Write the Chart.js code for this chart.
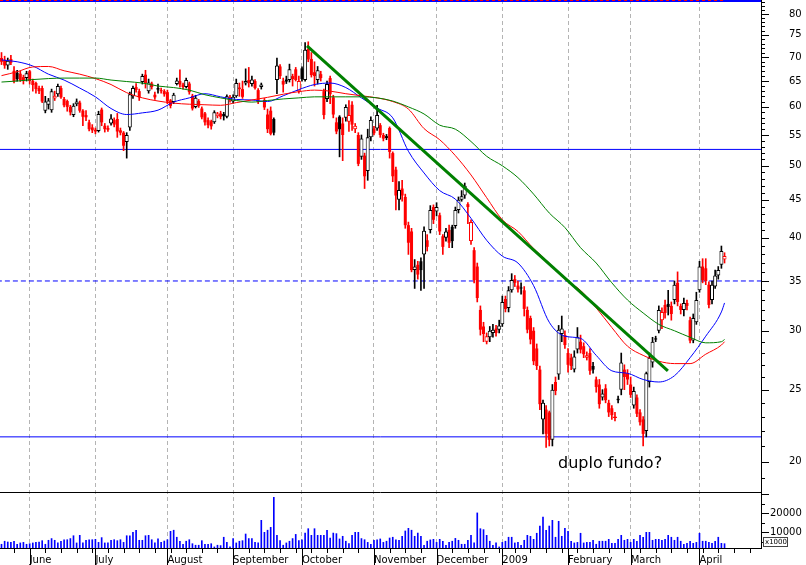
<!DOCTYPE html>
<html>
<head>
<meta charset="utf-8">
<title>Candles</title>
<script src="https://cdn.jsdelivr.net/npm/chart.js"></script>
<style>
  html, body { margin: 0; padding: 0; background: #fff; }
  #wrap { width: 806px; height: 565px; }
</style>
</head>
<body>
<div id="wrap"><canvas id="canvas" width="806" height="565"></canvas></div>
<script>
// month starts (trading-day index) and their labels
var monthIdx = [9, 30, 53, 74, 96, 119, 139, 160, 181, 201, 223];
var monthLbl = ["June", "July", "August", "September", "October", "November", "December", "2009", "February", "March", "April"];

// daily candles, one value per trading day
var openV = [
  69.8, 69.4, 68.2, 69.6, 67.1, 66.7, 66.5, 65.8, 65.6, 67.0,
  65.0, 64.6, 63.6, 63.6, 59.3, 60.4, 59.4, 61.6, 62.4, 63.6,
  61.5, 61.1, 60.0, 58.5, 60.5, 60.8, 59.3, 58.5, 57.2, 56.3,
  55.9, 55.7, 59.5, 56.6, 56.2, 57.0, 57.6, 57.8, 55.8, 55.4,
  53.8, 56.3, 62.0, 63.8, 63.0, 64.8, 66.3, 63.0, 64.5, 62.3,
  63.6, 63.2, 63.0, 62.8, 61.2, 60.9, 64.4, 65.0, 64.3, 63.8,
  64.5, 62.1, 60.0, 61.1, 59.7, 58.8, 57.6, 57.4, 57.2, 58.3,
  58.8, 58.7, 58.2, 61.2, 61.0, 62.0, 63.7, 63.4, 64.5, 65.2,
  64.4, 65.0, 63.2, 63.8, 61.3, 58.6, 59.3, 57.8, 65.2, 68.0,
  65.0, 65.3, 65.2, 66.0, 67.4, 63.0, 67.6, 65.2, 71.8, 69.6,
  66.8, 65.2, 66.4, 63.0, 61.5, 65.6, 61.8, 57.2, 58.2, 57.0,
  58.0, 57.3, 60.4, 56.0, 55.0, 51.4, 51.6, 49.2, 54.6, 56.1,
  56.1, 56.7, 55.0, 54.8, 56.2, 52.0, 49.4, 45.0, 46.6, 45.4,
  41.6, 40.8, 36.2, 36.8, 37.2, 38.0, 39.7, 41.0, 44.0, 43.4,
  42.9, 40.2, 40.0, 41.0, 41.4, 41.5, 43.6, 45.0, 45.6, 44.4,
  39.6, 38.5, 36.6, 32.0, 30.4, 29.0, 29.4, 29.8, 30.2, 30.1,
  30.6, 33.1, 32.2, 34.0, 35.2, 34.5, 34.3, 34.0, 32.0, 31.2,
  30.0, 28.4, 26.6, 22.8, 23.5, 23.3, 21.4, 25.6, 26.2, 29.7,
  29.6, 28.0, 27.6, 26.6, 28.3, 29.0, 28.6, 27.6, 28.0, 26.9,
  25.8, 25.4, 24.4, 25.1, 24.0, 23.6, 22.9, 24.3, 25.0, 26.6,
  26.3, 25.4, 23.8, 24.4, 23.3, 22.8, 22.0, 25.6, 27.2, 29.3,
  30.0, 31.0, 32.5, 32.6, 32.4, 33.0, 34.8, 32.4, 32.0, 32.7,
  31.0, 29.1, 30.8, 34.0, 36.6, 36.4, 34.6, 33.0, 34.4, 35.6,
  36.8, 37.4
];
var highV = [
  71.0, 70.2, 69.8, 70.4, 68.0, 67.2, 67.0, 66.2, 67.0, 67.2,
  65.4, 64.8, 64.0, 64.0, 62.0, 61.6, 63.4, 63.0, 64.4, 64.0,
  61.8, 61.3, 60.3, 60.6, 61.5, 61.1, 59.5, 59.3, 57.6, 56.8,
  56.2, 59.2, 59.8, 57.0, 56.6, 58.6, 58.0, 58.8, 56.2, 55.6,
  55.4, 62.8, 64.0, 64.5, 63.4, 66.4, 67.2, 65.4, 64.8, 62.8,
  64.4, 63.6, 63.3, 63.2, 61.4, 62.6, 65.6, 67.3, 64.6, 65.6,
  64.8, 62.4, 62.2, 61.4, 60.0, 59.0, 58.0, 57.6, 59.3, 59.0,
  59.2, 59.0, 62.3, 62.2, 62.3, 65.4, 64.6, 65.0, 67.5, 67.8,
  66.0, 65.3, 63.5, 64.6, 61.6, 59.6, 60.0, 58.0, 69.8, 68.4,
  65.6, 66.0, 68.5, 66.4, 67.8, 66.0, 67.9, 73.2, 73.4, 71.0,
  69.0, 68.0, 67.0, 63.4, 65.0, 66.0, 62.2, 58.0, 58.4, 58.0,
  60.4, 61.2, 61.0, 57.0, 55.4, 55.0, 52.0, 56.0, 58.2, 56.5,
  60.3, 57.0, 55.3, 55.1, 56.4, 52.2, 49.8, 47.6, 47.8, 45.8,
  42.0, 41.2, 37.4, 37.2, 37.6, 41.4, 40.4, 44.2, 44.3, 44.6,
  43.2, 40.4, 41.2, 41.6, 41.6, 44.0, 45.4, 46.3, 47.4, 44.6,
  42.3, 38.8, 37.0, 32.4, 30.8, 29.8, 30.4, 30.6, 30.5, 31.0,
  33.4, 33.4, 34.4, 35.8, 35.6, 35.0, 34.8, 34.4, 32.3, 31.4,
  30.3, 28.8, 26.9, 24.2, 23.8, 23.4, 25.4, 26.0, 30.5, 31.4,
  30.0, 28.4, 27.9, 28.2, 30.3, 29.6, 28.9, 28.1, 28.4, 27.2,
  26.0, 25.8, 25.0, 25.4, 24.2, 23.8, 23.3, 24.5, 28.0, 27.0,
  26.6, 26.0, 25.2, 24.6, 23.5, 23.0, 26.4, 28.0, 29.4, 29.5,
  32.4, 32.2, 33.0, 34.0, 32.8, 35.0, 36.0, 32.6, 33.2, 33.0,
  31.3, 31.6, 33.8, 37.2, 37.5, 37.5, 34.9, 35.0, 36.2, 36.6,
  39.0, 38.2
];
var lowV = [
  68.4, 67.6, 67.4, 68.4, 64.6, 65.0, 64.9, 64.4, 65.0, 64.4,
  63.0, 62.6, 62.5, 60.8, 58.9, 59.6, 59.0, 61.2, 62.0, 61.6,
  60.0, 59.2, 58.5, 58.2, 60.2, 59.0, 56.6, 57.5, 55.7, 55.4,
  55.2, 55.5, 56.6, 55.5, 55.6, 56.7, 56.4, 54.6, 55.0, 52.4,
  51.2, 55.8, 61.6, 62.8, 61.2, 64.4, 63.6, 62.6, 63.4, 61.4,
  62.6, 62.6, 62.0, 60.6, 59.8, 60.6, 64.2, 63.8, 63.4, 63.6,
  62.4, 59.4, 59.8, 59.9, 57.8, 56.7, 56.2, 56.0, 57.0, 58.0,
  57.8, 57.6, 58.0, 60.9, 60.7, 61.8, 62.0, 61.6, 64.2, 63.8,
  64.0, 63.4, 60.6, 63.4, 59.5, 55.4, 55.0, 55.0, 62.5, 65.5,
  62.8, 64.5, 64.8, 64.0, 65.0, 62.6, 65.0, 65.0, 69.0, 65.8,
  64.0, 64.4, 65.0, 57.8, 61.0, 60.6, 58.0, 55.2, 51.4, 50.8,
  57.4, 55.6, 55.8, 55.4, 50.0, 51.0, 46.6, 47.8, 54.0, 55.0,
  55.8, 54.6, 54.0, 54.2, 51.2, 47.6, 43.6, 43.6, 44.8, 41.2,
  38.0, 36.0, 34.2, 35.2, 34.0, 34.2, 38.4, 40.6, 41.8, 42.8,
  40.4, 38.0, 39.6, 38.8, 38.8, 41.2, 43.2, 44.8, 45.2, 41.8,
  39.2, 34.8, 32.8, 29.6, 29.0, 28.8, 29.0, 29.4, 29.5, 29.8,
  30.4, 31.8, 31.8, 33.8, 34.4, 33.8, 33.6, 31.4, 29.8, 28.8,
  27.0, 26.6, 23.5, 21.8, 20.9, 21.0, 21.0, 24.6, 25.8, 29.0,
  28.4, 26.4, 26.6, 26.4, 28.0, 28.0, 27.6, 27.4, 26.2, 26.3,
  24.8, 23.6, 24.2, 24.0, 23.0, 22.8, 22.7, 24.0, 24.6, 25.0,
  25.4, 24.4, 23.6, 23.0, 22.4, 21.0, 21.6, 25.2, 26.8, 29.0,
  29.8, 30.2, 31.2, 31.5, 31.0, 32.6, 32.4, 31.6, 31.4, 32.0,
  28.9, 28.9, 30.6, 33.8, 34.8, 34.6, 32.2, 32.6, 34.2, 35.2,
  36.4, 37.0
];
var closeV = [
  69.0, 68.2, 69.2, 68.8, 65.0, 65.4, 65.2, 65.0, 66.6, 65.0,
  64.2, 63.4, 63.0, 61.0, 61.0, 61.2, 63.0, 62.1, 64.0, 61.8,
  60.3, 60.0, 59.0, 60.2, 61.0, 59.3, 58.2, 58.1, 56.0, 55.8,
  55.6, 58.7, 57.2, 56.0, 55.9, 57.9, 56.8, 55.6, 55.4, 53.2,
  55.0, 62.4, 63.6, 63.2, 61.8, 66.0, 64.6, 64.7, 63.8, 61.8,
  63.3, 63.0, 62.4, 61.0, 60.2, 62.3, 65.1, 64.3, 63.8, 65.2,
  62.8, 59.7, 61.7, 60.2, 58.1, 57.2, 56.7, 56.5, 59.0, 58.8,
  58.2, 58.3, 62.0, 61.8, 61.9, 64.6, 63.4, 61.9, 65.0, 64.6,
  65.3, 63.6, 60.9, 64.3, 59.9, 56.0, 55.2, 55.4, 68.2, 66.0,
  64.3, 64.9, 67.4, 65.4, 65.2, 65.0, 65.4, 71.6, 69.5, 66.2,
  66.0, 67.2, 65.6, 58.5, 64.4, 62.4, 58.6, 55.6, 56.0, 55.0,
  60.0, 58.5, 56.8, 56.6, 50.3, 54.4, 48.4, 54.6, 57.6, 55.3,
  58.5, 55.0, 54.4, 54.5, 52.2, 48.4, 45.6, 46.4, 45.6, 41.6,
  39.4, 36.2, 36.6, 35.7, 36.2, 40.9, 38.9, 43.6, 42.3, 44.0,
  40.8, 38.9, 40.8, 39.4, 39.6, 43.6, 45.0, 45.5, 47.0, 44.0,
  42.0, 35.1, 33.2, 30.1, 29.7, 29.5, 30.0, 30.1, 29.8, 30.5,
  32.8, 32.1, 34.0, 35.1, 34.8, 34.1, 34.2, 32.1, 30.1, 29.2,
  27.3, 26.9, 23.9, 24.0, 21.8, 21.4, 25.0, 24.9, 30.1, 30.2,
  28.7, 27.0, 26.9, 27.7, 29.4, 28.3, 27.9, 27.8, 26.5, 26.6,
  25.2, 23.9, 24.7, 24.2, 23.3, 23.1, 23.0, 24.2, 27.2, 26.0,
  25.8, 24.6, 24.9, 23.2, 22.6, 21.8, 26.3, 27.6, 29.0, 29.2,
  32.0, 31.8, 31.7, 32.3, 31.6, 34.6, 32.8, 32.0, 32.7, 32.4,
  29.1, 31.2, 33.0, 36.6, 35.1, 35.0, 32.5, 34.6, 35.6, 36.2,
  38.4, 37.8
];
// volume, in thousands
var volume = [
  3700, 5300, 4900, 4700, 5300, 3700, 4400, 4700, 3700, 4000,
  4400, 4700, 4900, 5600, 3700, 5800, 6700, 5800, 4400, 5300,
  6100, 6100, 6700, 8200, 4400, 8400, 4400, 5800, 6100, 6100,
  6300, 4700, 7200, 4400, 4400, 5800, 6100, 5600, 6100, 4700,
  8200, 8200, 10000, 11100, 5800, 5800, 8200, 8400, 6100, 4400,
  6500, 4700, 5400, 6100, 10500, 11100, 7400, 5300, 3700, 5300,
  6100, 4000, 3200, 3200, 5600, 3700, 3700, 4000, 2300, 3200,
  3000, 7400, 4700, 2300, 6700, 4400, 5300, 5600, 9100, 6700,
  6700, 4700, 4400, 16300, 10000, 11100, 12600, 28400, 8400, 5600,
  3200, 4400, 5300, 6700, 8900, 5600, 6100, 9600, 11900, 8400,
  11900, 8400, 8400, 8400, 11100, 7000, 9600, 9300, 6500, 7900,
  5300, 4000, 8400, 10000, 10000, 6700, 6100, 4700, 3700, 5800,
  6100, 6500, 4700, 5300, 7000, 7400, 6000,
  5800, 7900, 10700, 12100, 11100, 7900, 9600, 7900, 3200, 5300,
  6000, 6300, 4700, 6300, 5300, 3200, 4700, 5300, 6800, 5800,
  3700, 3700, 5800, 8400, 4400, 20200, 11900, 11400, 8400, 5300,
  3200, 4400, 2300, 4700, 5300, 7400, 7400, 4400, 4700, 3200,
  5800, 8400, 7900, 6300, 9500, 13300, 18000, 11100, 13300, 16300,
  7400, 15800, 7900, 12100, 10500, 5300, 4400, 4700, 9500, 4400,
  4700, 4700, 5800, 3700, 5300, 5300, 5300, 6300, 4200, 4200,
  6300, 8400, 5800, 6300, 4700, 6300, 5300, 8400, 7400, 10000,
  10000, 5800, 6300, 6300, 5800, 6300, 8400, 7400, 5800, 7400,
  5300, 3700, 4200, 5300, 4200, 4700, 9500, 5300, 5300, 4700,
  4200, 5300, 7400, 4200, 4000
];

// moving averages, every 5 sessions
var maIdx = [0, 5, 10, 15, 20, 25, 30, 35, 40, 45, 50, 55, 60, 65, 70, 75, 80, 85, 90, 95,
  100, 105, 110, 115, 120, 125, 130, 135, 140, 145, 150, 155, 160, 165, 170, 175, 180, 185, 190, 195,
  200, 205, 210, 215, 220, 225, 230, 231];
var maBlue = [69.4, 69.0, 68.1, 66.4, 65.2, 63.6, 61.9, 59.7, 58.6, 58.9, 59.4, 60.9, 61.7, 62.5, 61.9, 61.4, 61.3, 61.0, 62.1, 63.3,
  64.3, 64.6, 63.7, 61.7, 59.8, 58.0, 52.3, 48.9, 46.3, 45.1, 42.5, 39.7, 37.8, 37.0, 34.5, 30.8, 29.5, 29.3, 27.8, 26.5,
  26.3, 25.8, 25.6, 26.1, 27.6, 29.5, 31.8, 32.7];
var maRed = [66.1, 66.9, 67.9, 68.0, 67.1, 66.4, 65.5, 64.3, 62.7, 61.7, 61.1, 60.7, 60.5, 60.4, 60.3, 60.8, 61.3, 61.8, 62.4, 62.9,
  63.2, 63.0, 62.5, 62.1, 61.7, 61.0, 59.6, 56.1, 54.2, 51.6, 48.6, 45.3, 42.3, 40.8, 38.7, 37.0, 35.2, 34.0, 32.2, 30.3,
  28.6, 27.8, 27.3, 27.1, 27.1, 27.9, 28.7, 29.0];
var maGreen = [64.8, 65.0, 65.3, 65.5, 65.6, 65.6, 65.6, 65.2, 64.9, 64.6, 64.0, 63.7, 63.2, 62.3, 61.7, 61.2, 60.9, 61.2, 61.5, 61.7,
  61.9, 61.9, 61.9, 61.9, 61.7, 61.1, 60.0, 58.7, 56.7, 56.0, 53.9, 51.5, 50.0, 48.2, 45.8, 43.2, 41.3, 38.8, 37.0, 34.8,
  33.0, 31.7, 30.6, 30.0, 29.4, 28.9, 29.0, 29.2];

// hand-drawn trend line and horizontal levels
var trendIdx = [97.6, 212.9];
var trendVal = [72.5, 26.5];
var levels = [52.6, 35, 21.6];
var priceTicks = [20, 25, 30, 35, 40, 45, 50, 55, 60, 65, 70, 75, 80];
var volTicks = [10000, 20000];
var noteText = "duplo fundo?";
var noteAt = [177.8, 19.6];

var xMin = -0.48, xMax = 242.65;

Chart.defaults.font.family = "'DejaVu Sans', sans-serif";
Chart.defaults.font.size = 10;
Chart.defaults.color = '#000';

var idx = closeV.map(function (c, i) { return i; });
function candleColor(i) {
  var ref = i > 0 ? closeV[i - 1] : openV[i];
  return closeV[i] >= ref ? '#000000' : '#ff0000';
}
function pointColor(ctx) {
  return ctx.raw ? candleColor(ctx.raw.x) : '#000000';
}
var wicks = idx.map(function (i) { return {x: i, y: [lowV[i], highV[i]]}; });
var hollow = idx.filter(function (i) { return closeV[i] >= openV[i]; })
  .map(function (i) { return {x: i, y: [openV[i], closeV[i]]}; });
var solid = idx.filter(function (i) { return closeV[i] < openV[i]; })
  .map(function (i) { return {x: i, y: [closeV[i], openV[i]]}; });
var vols = idx.map(function (i) { return {x: i, y: volume[i]}; });
function series(xs, ys) { return xs.map(function (k, j) { return {x: k, y: ys[j]}; }); }

function levelSet(v, dash) {
  return {
    type: 'line', data: [{x: xMin - 1, y: v}, {x: xMax + 1, y: v}], yAxisID: 'y',
    borderColor: '#0000ff', borderWidth: 1, borderDash: dash, pointRadius: 0, fill: false, order: 6
  };
}
function maSet(vals, col) {
  return {
    type: 'line', data: series(maIdx, vals), yAxisID: 'y', borderColor: col, borderWidth: 1,
    pointRadius: 0, fill: false, cubicInterpolationMode: 'monotone', order: 1
  };
}

var decor = {
  id: 'decor',
  afterDraw: function (chart) {
    var c = chart.ctx, a = chart.chartArea;
    var xs = chart.scales.x, ys = chart.scales.y, vs = chart.scales.yv;
    c.save();
    // frame line along the top
    c.fillStyle = '#0000ff';
    c.fillRect(a.left, a.top, a.right - a.left, 2);
    c.fillStyle = '#ff0000';
    var lastX = xs.getPixelForValue(idx.length - 1);
    for (var px = a.left; px < lastX; px += 6) c.fillRect(px, a.top, 3, 1);

    c.strokeStyle = '#000';
    c.lineWidth = 1;
    c.beginPath();
    var sep = Math.round(vs.top) + 0.5;
    c.moveTo(a.left, sep); c.lineTo(a.right, sep);
    for (var v = 19; v <= 83; v++) {
      var y = Math.round(ys.getPixelForValue(v)) + 0.5;
      c.moveTo(a.right, y); c.lineTo(a.right + (v % 5 ? 4 : 8), y);
    }
    for (var k = 5000; k <= 30000; k += 5000) {
      var yk = Math.round(vs.getPixelForValue(k)) + 0.5;
      c.moveTo(a.right, yk); c.lineTo(a.right + (k % 10000 ? 4 : 8), yk);
    }
    for (var w = 4; w <= xMax; w += 5) {
      var xw = Math.round(xs.getPixelForValue(w)) + 0.5;
      c.moveTo(xw, a.bottom); c.lineTo(xw, a.bottom + 5);
    }
    monthIdx.forEach(function (m) {
      var xm = Math.round(xs.getPixelForValue(m)) + 0.5;
      c.moveTo(xm, a.bottom); c.lineTo(xm, chart.height);
    });
    c.stroke();

    // x1000 box under the volume labels
    var bx = a.right + 2, by = Math.round(vs.bottom) - 11;
    c.fillStyle = '#fff';
    c.fillRect(bx, by, 25, 10);
    c.strokeStyle = '#444';
    c.strokeRect(bx + 0.5, by + 0.5, 24, 9);
    c.fillStyle = '#000';
    c.font = "7px 'DejaVu Sans'";
    c.textAlign = 'left';
    c.textBaseline = 'middle';
    c.fillText('x1000', bx + 2, by + 5.5);

    // annotation
    c.font = "16px 'DejaVu Sans'";
    c.textBaseline = 'alphabetic';
    c.fillText(noteText, xs.getPixelForValue(noteAt[0]), ys.getPixelForValue(noteAt[1]));
    c.restore();
  }
};

var ctx = document.getElementById('canvas').getContext('2d');
var chart = new Chart(ctx, {
  type: 'bar',
  data: {
    datasets: [
      levelSet(levels[0], []),
      levelSet(levels[1], [5, 3]),
      levelSet(levels[2], []),
      {
        type: 'bar', data: vols, yAxisID: 'yv', backgroundColor: '#0000ff',
        barThickness: 1, grouped: false, order: 5
      },
      {
        type: 'bar', data: wicks, yAxisID: 'y', backgroundColor: pointColor,
        barThickness: 1, grouped: false, order: 4
      },
      {
        type: 'bar', data: hollow, yAxisID: 'y', backgroundColor: '#ffffff', borderColor: pointColor,
        borderWidth: 1, borderSkipped: false, inflateAmount: 0, barThickness: 4, grouped: false, order: 3
      },
      {
        type: 'bar', data: solid, yAxisID: 'y', backgroundColor: pointColor,
        borderWidth: 0, inflateAmount: 0, barThickness: 3, grouped: false, order: 3
      },
      maSet(maGreen, '#008000'),
      maSet(maRed, '#ff0000'),
      maSet(maBlue, '#0000ff'),
      {
        type: 'line', data: series(trendIdx, trendVal), yAxisID: 'y', borderColor: '#008000',
        borderWidth: 3, pointRadius: 0, fill: false, order: 0
      }
    ]
  },
  options: {
    responsive: false,
    maintainAspectRatio: false,
    animation: false,
    devicePixelRatio: 1,
    events: [],
    layout: { padding: 0, autoPadding: false },
    plugins: { legend: { display: false }, tooltip: { enabled: false } },
    scales: {
      x: {
        type: 'linear', min: xMin, max: xMax, offset: false,
        afterBuildTicks: function (s) { s.ticks = monthIdx.map(function (m) { return {value: m}; }); },
        ticks: {
          autoSkip: false, maxRotation: 0, minRotation: 0, align: 'start', labelOffset: 0, padding: 6,
          color: '#000', font: { size: 10 },
          callback: function (v) { return monthLbl[monthIdx.indexOf(v)]; }
        },
        grid: { display: true, color: '#b4b4b4', lineWidth: 1, drawTicks: false, offset: false },
        border: { display: true, color: '#000', dash: [4, 3] },
        afterFit: function (s) { s.height = 17; s.paddingLeft = 0; s.paddingRight = 0; }
      },
      y: {
        type: 'logarithmic', position: 'right', stack: 'panels', stackWeight: 492,
        min: 18.21, max: 83.54, beginAtZero: false,
        afterBuildTicks: function (s) { s.ticks = priceTicks.map(function (v) { return {value: v}; }); },
        ticks: { padding: 28, color: '#000', font: { size: 10 }, callback: function (v) { return String(v); } },
        grid: { display: false, drawOnChartArea: false, drawTicks: false },
        border: { display: true, color: '#000' },
        afterFit: function (s) { s.width = 45; s.paddingTop = 0; s.paddingBottom = 0; }
      },
      yv: {
        type: 'linear', position: 'right', stack: 'panels', stackWeight: 56,
        min: 1737, max: 31210, beginAtZero: false,
        afterBuildTicks: function (s) { s.ticks = volTicks.map(function (v) { return {value: v}; }); },
        ticks: { padding: 9, color: '#000', font: { size: 10 }, callback: function (v) { return String(v); } },
        grid: { display: false, drawOnChartArea: false, drawTicks: false },
        border: { display: true, color: '#000' },
        afterFit: function (s) { s.width = 45; s.paddingTop = 0; s.paddingBottom = 0; }
      }
    }
  },
  plugins: [decor]
});
</script>
</body>
</html>
